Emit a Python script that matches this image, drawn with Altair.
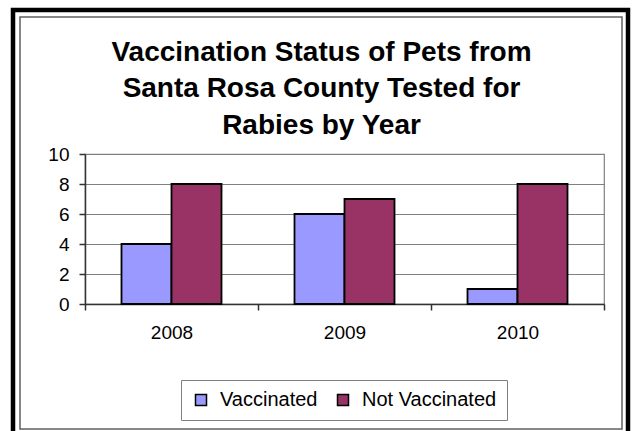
import altair as alt
import pandas as pd

# Rabies-tested pets from Santa Rosa County, by vaccination status
years = ["2008", "2009", "2010"]
vaccinated = [4, 6, 1]
not_vaccinated = [8, 7, 8]

statuses = ["Vaccinated", "Not Vaccinated"]
colors = ["#9999FF", "#993366"]

rows = []
for yr, v, nv in zip(years, vaccinated, not_vaccinated):
    rows.append({"year": yr, "status": "Vaccinated", "count": v})
    rows.append({"year": yr, "status": "Not Vaccinated", "count": nv})
df = pd.DataFrame(rows)

FONT = "Liberation Sans"

bars = (
    alt.Chart(df)
    .mark_bar(stroke="black", strokeWidth=1.8)
    .encode(
        x=alt.X(
            "year:N",
            sort=years,
            scale=alt.Scale(paddingInner=0, paddingOuter=0),
            axis=alt.Axis(
                title=None,
                labelAngle=0,
                labelFontSize=19,
                labelFont=FONT,
                labelColor="black",
                labelPadding=13,
                tickBand="extent",
                tickSize=6,
                tickColor="#333333",
                tickWidth=1.5,
                domainColor="#333333",
                domainWidth=1.5,
                grid=False,
            ),
        ),
        xOffset=alt.XOffset(
            "status:N",
            sort=statuses,
            scale=alt.Scale(paddingInner=0, paddingOuter=0.73),
        ),
        y=alt.Y(
            "count:Q",
            scale=alt.Scale(domain=[0, 10], nice=False),
            axis=alt.Axis(
                title=None,
                values=[0, 2, 4, 6, 8, 10],
                labelFontSize=19,
                labelFont=FONT,
                labelColor="black",
                labelPadding=10,
                tickSize=6,
                tickColor="#333333",
                tickWidth=1.5,
                domainColor="#333333",
                domainWidth=1.5,
                grid=True,
                gridColor="#808080",
                gridWidth=1.2,
            ),
        ),
        color=alt.Color(
            "status:N",
            sort=statuses,
            scale=alt.Scale(domain=statuses, range=colors),
            legend=alt.Legend(
                title=None,
                orient="none",
                legendX=96,
                legendY=226,
                direction="horizontal",
                symbolType="square",
                symbolSize=121,
                symbolStrokeColor="black",
                symbolStrokeWidth=1.5,
                symbolOpacity=1,
                labelFontSize=20,
                labelFont=FONT,
                labelColor="black",
                labelOffset=9,
                columnPadding=15,
                padding=10,
                strokeColor="#808080",
                fillColor="white",
            ),
        ),
    )
)

# Chart frame: thin gray inner border and heavy black outer border
frame_data = alt.Data(values=[{"k": 0}])
inner_frame = (
    alt.Chart(frame_data)
    .mark_rect(fillOpacity=0, stroke="#606060", strokeWidth=1.5)
    .encode(
        x=alt.value(-65), x2=alt.value(537),
        y=alt.value(-137), y2=alt.value(275),
    )
)
outer_frame = (
    alt.Chart(frame_data)
    .mark_rect(fillOpacity=0, stroke="black", strokeWidth=4.5)
    .encode(
        x=alt.value(-72), x2=alt.value(543),
        y=alt.value(-144), y2=alt.value(300),
    )
)

chart = (
    alt.layer(outer_frame, inner_frame, bars)
    .properties(
        width=519,
        height=150,
        padding={"left": 85, "top": 154, "right": 29, "bottom": 127},
        autosize=alt.AutoSizeParams(type="none"),
        background="white",
        title=alt.TitleParams(
            text=[
                "Vaccination Status of Pets from",
                "Santa Rosa County Tested for",
                "Rabies by Year",
            ],
            font=FONT,
            fontSize=28,
            fontWeight="bold",
            color="black",
            lineHeight=36.5,
            anchor="middle",
            dx=-23,
            # the frame layer reaches above the plot, so pull the title back down
            offset=-132,
        ),
    )
    .configure_view(stroke="#808080", strokeWidth=1.2)
)

chart.save("out.html", embed_options={"renderer": "svg", "actions": False})
